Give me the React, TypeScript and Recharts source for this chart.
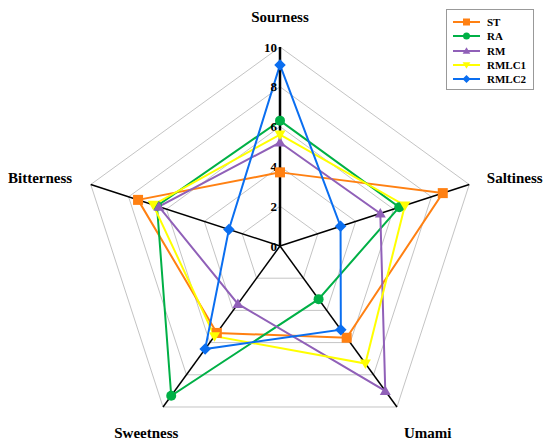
import { RadarChart, Radar, PolarGrid, PolarAngleAxis, PolarRadiusAxis, Legend } from 'recharts';

// axes go clockwise from the top
const attributes = ['Sourness', 'Saltiness', 'Umami', 'Sweetness', 'Bitterness'];
const ST = [3.7, 8.6, 5.7, 5.4, 7.5];
const RA = [6.3, 6.3, 3.3, 9.3, 6.5];
const RM = [5.2, 5.3, 9.0, 3.6, 6.4];
const RMLC1 = [5.6, 6.6, 7.3, 5.6, 6.7];
const RMLC2 = [9.1, 3.2, 5.2, 6.4, 2.7];
const radiusTicks = [0, 2, 4, 6, 8, 10];

const series = [
  { key: 'ST', values: ST, color: '#FF8012', marker: 'square' },
  { key: 'RA', values: RA, color: '#00B046', marker: 'circle' },
  { key: 'RM', values: RM, color: '#9060B8', marker: 'triangle' },
  { key: 'RMLC1', values: RMLC1, color: '#FFFF00', marker: 'triangleDown' },
  { key: 'RMLC2', values: RMLC2, color: '#0A6EF0', marker: 'diamond' },
];

const data = attributes.map((attr, i) => {
  const row: any = { attr };
  series.forEach(s => { row[s.key] = s.values[i]; });
  return row;
});

const FONT = '"Liberation Serif", "Times New Roman", serif';

function Marker({ type, x, y, size, color }: { type: string; x: number; y: number; size: number; color: string }) {
  const h = size / 2;
  if (type === 'square') return <rect x={x - h} y={y - h} width={size} height={size} fill={color} />;
  if (type === 'circle') return <circle cx={x} cy={y} r={h} fill={color} />;
  if (type === 'triangle')
    return <polygon points={`${x},${y - h * 1.1} ${x + h * 1.1},${y + h * 0.8} ${x - h * 1.1},${y + h * 0.8}`} fill={color} />;
  if (type === 'triangleDown')
    return <polygon points={`${x},${y + h * 1.1} ${x + h * 1.1},${y - h * 0.8} ${x - h * 1.1},${y - h * 0.8}`} fill={color} />;
  return <polygon points={`${x},${y - h * 1.15} ${x + h * 1.15},${y} ${x},${y + h * 1.15} ${x - h * 1.15},${y}`} fill={color} />;
}

// nudges for the category labels around the pentagon
const labelOffset: Record<string, { dx: number; dy: number; anchor: string }> = {
  Sourness: { dx: 0, dy: -22, anchor: 'middle' },
  Saltiness: { dx: 10, dy: -4, anchor: 'start' },
  Umami: { dx: 26, dy: 20, anchor: 'middle' },
  Sweetness: { dx: -12, dy: 20, anchor: 'middle' },
  Bitterness: { dx: -11, dy: -4, anchor: 'end' },
};

const AngleTick = (props: any) => {
  const { x, y, payload } = props;
  const o = labelOffset[payload.value] || { dx: 0, dy: 0, anchor: 'middle' };
  return (
    <text x={x + o.dx} y={y + o.dy} textAnchor={o.anchor} dominantBaseline="central"
      fontFamily={FONT} fontWeight="bold" fontSize={15} fill="#000">
      {payload.value}
    </text>
  );
};

const RadiusTick = (props: any) => {
  const { x, y, payload } = props;
  return (
    <text x={x - 3} y={y} textAnchor="end" dominantBaseline="central"
      fontFamily={FONT} fontWeight="bold" fontSize={13} fill="#000">
      {payload.value}
    </text>
  );
};

const LegendBox = () => (
  <div style={{ border: '1px solid #999', background: '#fff', width: 88, height: 81, boxSizing: 'border-box', paddingTop: 5 }}>
    {series.map(s => (
      <div key={s.key} style={{ display: 'flex', alignItems: 'center', height: 14.3 }}>
        <svg width={40} height={12}>
          <line x1={6} y1={6} x2={33} y2={6} stroke={s.color} strokeWidth={2} />
          <Marker type={s.marker} x={19.5} y={6} size={7} color={s.color} />
        </svg>
        <span style={{ fontFamily: FONT, fontWeight: 'bold', fontSize: 11, color: '#000', lineHeight: '12px' }}>{s.key}</span>
      </div>
    ))}
  </div>
);

export default function App() {
  return (
    <div style={{ position: 'absolute', left: 0, top: 0, background: '#fff' }}>
      <RadarChart width={550} height={447} data={data} cx={280} cy={246} outerRadius={199}
        margin={{ top: 0, right: 0, bottom: 0, left: 0 }}>
        <PolarGrid gridType="polygon" radialLines={false} stroke="#c4c4c4" strokeWidth={1} />
        <PolarGrid gridType="polygon" radialLines polarRadius={[]} stroke="#000" strokeWidth={1.5} />
        <PolarAngleAxis dataKey="attr" tick={AngleTick} tickLine={false} axisLine={false} />
        <PolarRadiusAxis angle={90} domain={[0, 10]} ticks={radiusTicks as any} tickCount={6}
          tick={RadiusTick} tickLine={false} axisLine={{ stroke: '#000', strokeWidth: 2.5 }} />
        {series.map(s => (
          <Radar key={s.key} name={s.key} dataKey={s.key} stroke={s.color} strokeWidth={2}
            fill="none" fillOpacity={0} isAnimationActive={false}
            dot={(p: any) => <Marker key={`${s.key}-${p.index}`} type={s.marker} x={p.cx} y={p.cy} size={10} color={s.color} />} />
        ))}
        <Legend content={LegendBox} wrapperStyle={{ position: 'absolute', left: 446, top: 9, width: 88 }} />
      </RadarChart>
    </div>
  );
}
